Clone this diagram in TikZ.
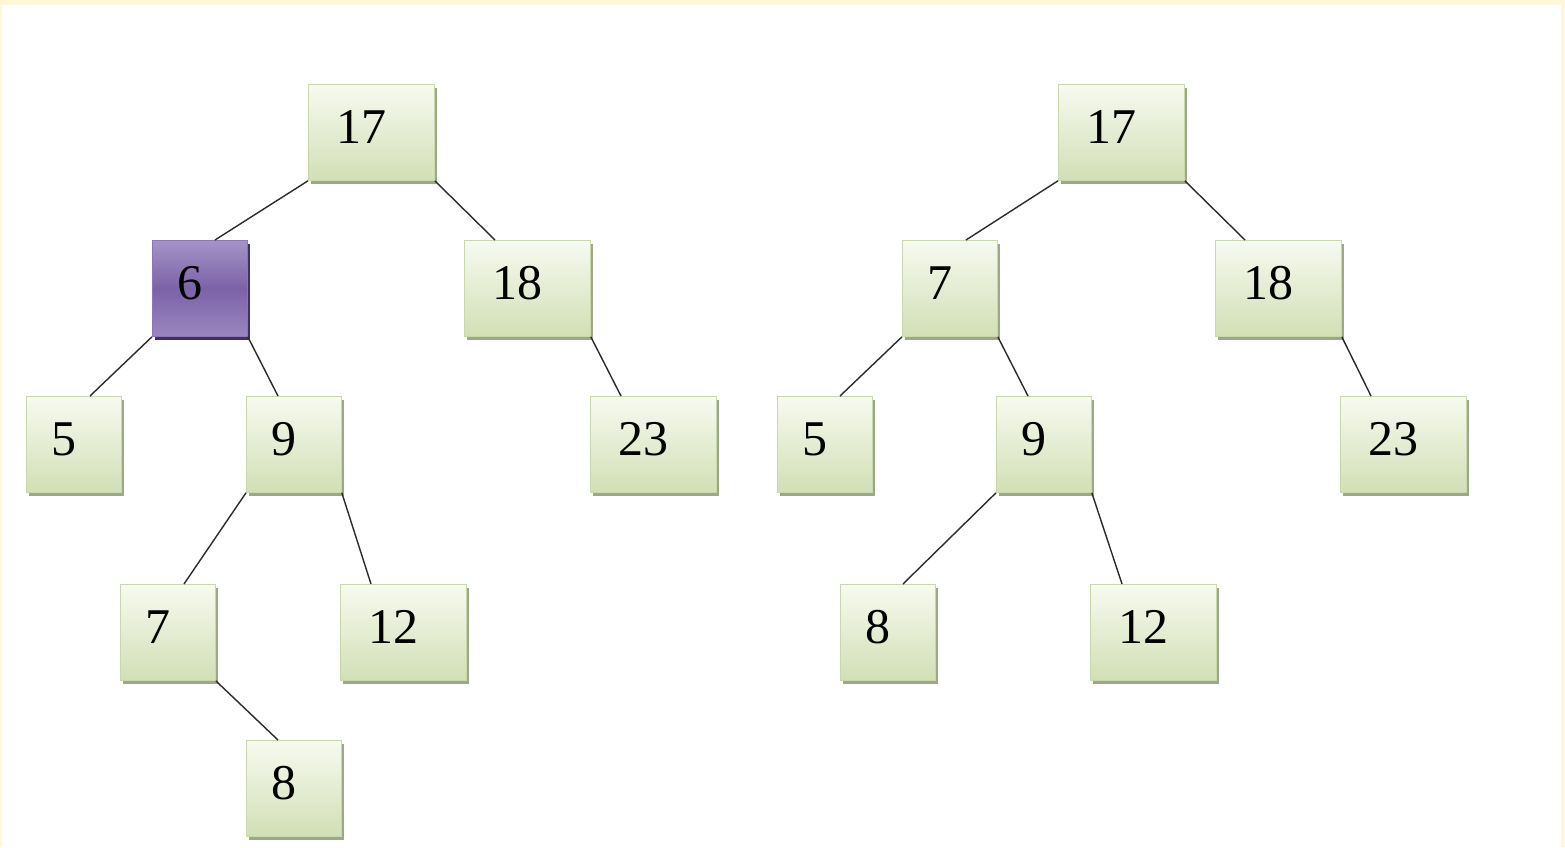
\documentclass[tikz,border=0pt]{standalone}
\usepackage{fontspec}
\setmainfont{Liberation Serif}
\usetikzlibrary{calc,shadows}
\definecolor{frame}{HTML}{FFF8D8}
\definecolor{gtop}{HTML}{F7FAF0}
\definecolor{gbot}{HTML}{D2DFB5}
\definecolor{gline}{HTML}{C9D7AC}
\definecolor{gshad}{HTML}{9DA889}
\definecolor{ptop}{HTML}{A594C8}
\definecolor{pmid}{HTML}{7C62A7}
\definecolor{pbot}{HTML}{9A86C0}
\definecolor{pline}{HTML}{8B77B4}
\definecolor{pshad}{HTML}{3F3060}
\definecolor{edge}{HTML}{2A2A2A}
\tikzset{
  box/.style={rectangle, anchor=north west, minimum height=96pt, inner sep=0pt,
    top color=gtop, bottom color=gbot, draw=gline, line width=0.8pt,
    font=\fontsize{50}{56}\selectfont,
    drop shadow={shadow xshift=3pt, shadow yshift=-4pt, fill=gshad, opacity=1}},
  hot/.style={top color=ptop, bottom color=pbot, middle color=pmid, draw=pline,
    drop shadow={shadow xshift=3pt, shadow yshift=-4pt, fill=pshad, opacity=1}},
  one/.style={minimum width=95pt},
  two/.style={minimum width=126pt},
  link/.style={draw=edge, line width=1.4pt}
}
\newcommand{\lab}[1]{\raisebox{11pt}{\hspace*{-20pt}#1}}
\begin{document}
\begin{tikzpicture}[x=1pt,y=-1pt]
\fill[frame] (0,0) rectangle (1565,847);
\fill[white] (2,5) rectangle (1561,847);
\useasboundingbox (0,0) rectangle (1565,847);
% left tree
\node[box,two] (a17) at (308,84) {\lab{17}};
\node[box,one,hot] (a6) at (152,240) {\lab{6}};
\node[box,two] (a18) at (464,240) {\lab{18}};
\node[box,one] (a5) at (26,396) {\lab{5}};
\node[box,one] (a9) at (246,396) {\lab{9}};
\node[box,two] (a23) at (590,396) {\lab{23}};
\node[box,one] (a7) at (120,584) {\lab{7}};
\node[box,two] (a12) at (340,584) {\lab{12}};
\node[box,one] (a8) at (246,740) {\lab{8}};
% right tree
\node[box,two] (b17) at (1058,84) {\lab{17}};
\node[box,one] (b7) at (902,240) {\lab{7}};
\node[box,two] (b18) at (1215,240) {\lab{18}};
\node[box,one] (b5) at (777,396) {\lab{5}};
\node[box,one] (b9) at (996,396) {\lab{9}};
\node[box,two] (b23) at (1340,396) {\lab{23}};
\node[box,one] (b8) at (840,584) {\lab{8}};
\node[box,two] (b12) at (1090,584) {\lab{12}};
% edges
\draw[link] (a17.south west) -- ([xshift=63pt]a6.north west);
\draw[link] (a17.south east) -- ([xshift=31pt]a18.north west);
\draw[link] (a6.south west) -- ([xshift=64pt]a5.north west);
\draw[link] (a6.south east) -- ([xshift=32pt]a9.north west);
\draw[link] (a18.south east) -- ([xshift=31pt]a23.north west);
\draw[link] (a9.south west) -- ([xshift=64pt]a7.north west);
\draw[link] (a9.south east) -- ([xshift=31pt]a12.north west);
\draw[link] (a7.south east) -- ([xshift=32pt]a8.north west);
\draw[link] (b17.south west) -- ([xshift=64pt]b7.north west);
\draw[link] (b17.south east) -- ([xshift=30pt]b18.north west);
\draw[link] (b7.south west) -- ([xshift=63pt]b5.north west);
\draw[link] (b7.south east) -- ([xshift=32pt]b9.north west);
\draw[link] (b18.south east) -- ([xshift=31pt]b23.north west);
\draw[link] (b9.south west) -- ([xshift=63pt]b8.north west);
\draw[link] (b9.south east) -- ([xshift=32pt]b12.north west);
\end{tikzpicture}
\end{document}
